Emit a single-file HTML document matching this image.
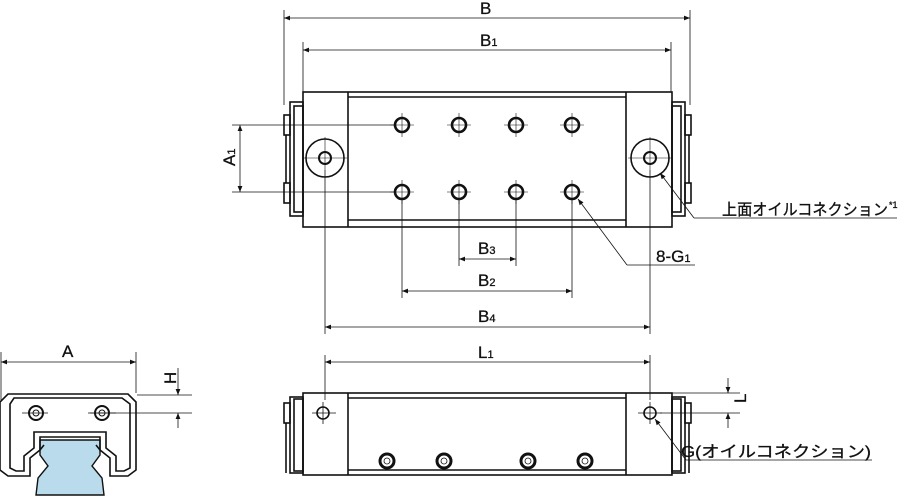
<!DOCTYPE html>
<html><head><meta charset="utf-8"><style>
html,body{margin:0;padding:0;background:#fff;width:905px;height:497px;overflow:hidden}
svg{display:block}
text{font-family:"Liberation Sans","Noto Sans CJK JP",sans-serif;fill:#111;stroke:#111;stroke-width:0.3}
</style></head><body>
<svg width="905" height="497" viewBox="0 0 905 497" xmlns="http://www.w3.org/2000/svg">
<defs>
<marker id="a" viewBox="0 0 10 10" refX="10" refY="5" markerWidth="8" markerHeight="6" orient="auto-start-reverse" markerUnits="userSpaceOnUse"><path d="M0,1 L10,5 L0,9 z" fill="#111"/></marker>
</defs>
<g stroke="#111" fill="none" stroke-width="0.8">
<line x1="284" y1="10" x2="284" y2="105"/><line x1="690" y1="10" x2="690" y2="105"/>
<line x1="284" y1="18" x2="690" y2="18" marker-start="url(#a)" marker-end="url(#a)"/>
<line x1="303" y1="42" x2="303" y2="92"/><line x1="671" y1="42" x2="671" y2="92"/>
<line x1="303" y1="50" x2="671" y2="50" marker-start="url(#a)" marker-end="url(#a)"/>
<line x1="232" y1="125" x2="395" y2="125"/><line x1="232" y1="192" x2="395" y2="192"/>
<line x1="240" y1="125" x2="240" y2="192" marker-start="url(#a)" marker-end="url(#a)"/>
<line x1="459" y1="200" x2="459" y2="266"/><line x1="516" y1="200" x2="516" y2="266"/>
<line x1="459" y1="259" x2="516" y2="259" marker-start="url(#a)" marker-end="url(#a)"/>
<line x1="402" y1="200" x2="402" y2="298"/><line x1="572" y1="200" x2="572" y2="298"/>
<line x1="402" y1="291" x2="572" y2="291" marker-start="url(#a)" marker-end="url(#a)"/>
<line x1="325" y1="170" x2="325" y2="334"/><line x1="650" y1="170" x2="650" y2="334"/>
<line x1="325" y1="327" x2="650" y2="327" marker-start="url(#a)" marker-end="url(#a)"/>
<line x1="694" y1="218" x2="660" y2="173" marker-end="url(#a)"/><line x1="694" y1="218" x2="897" y2="218"/>
<line x1="627" y1="265" x2="578" y2="199" marker-end="url(#a)"/><line x1="627" y1="265" x2="695" y2="265"/>
<g stroke-width="0.6">
<line x1="390" y1="125" x2="414" y2="125"/><line x1="447" y1="125" x2="471" y2="125"/><line x1="504" y1="125" x2="528" y2="125"/><line x1="560" y1="125" x2="584" y2="125"/>
<line x1="390" y1="192" x2="414" y2="192"/><line x1="447" y1="192" x2="471" y2="192"/><line x1="504" y1="192" x2="528" y2="192"/><line x1="560" y1="192" x2="584" y2="192"/>
<line x1="402" y1="113" x2="402" y2="137"/><line x1="459" y1="113" x2="459" y2="137"/><line x1="516" y1="113" x2="516" y2="137"/><line x1="572" y1="113" x2="572" y2="137"/>
<line x1="402" y1="180" x2="402" y2="204"/><line x1="459" y1="180" x2="459" y2="204"/><line x1="516" y1="180" x2="516" y2="204"/><line x1="572" y1="180" x2="572" y2="204"/>
<line x1="303" y1="158" x2="347" y2="158"/><line x1="325" y1="137" x2="325" y2="170"/>
<line x1="628" y1="158" x2="672" y2="158"/><line x1="650" y1="137" x2="650" y2="170"/>
</g>
</g>
<g stroke="#111" fill="none" stroke-width="1.6">
<rect x="303" y="92" width="369" height="135"/>
<line x1="348" y1="97" x2="626" y2="97"/><line x1="348" y1="220" x2="626" y2="220"/>
<line x1="348" y1="92" x2="348" y2="227"/><line x1="626" y1="92" x2="626" y2="227"/>
<rect x="290" y="102" width="13" height="114"/><rect x="294" y="106" width="9" height="106"/>
<rect x="284" y="115" width="6" height="20"/><rect x="284" y="183" width="6" height="20"/><line x1="286" y1="135" x2="286" y2="183"/>
<rect x="672" y="102" width="13" height="114"/><rect x="672" y="106" width="9" height="106"/>
<rect x="685" y="115" width="6" height="20"/><rect x="685" y="183" width="6" height="20"/><line x1="689" y1="135" x2="689" y2="183"/>
<circle cx="325" cy="158" r="19"/><circle cx="325" cy="158" r="6" stroke-width="2"/>
<circle cx="650" cy="158" r="19"/><circle cx="650" cy="158" r="6" stroke-width="2"/>
<g stroke-width="2.6">
<circle cx="402" cy="125" r="7"/><circle cx="459" cy="125" r="7"/><circle cx="516" cy="125" r="7"/><circle cx="572" cy="125" r="7"/>
<circle cx="402" cy="192" r="7"/><circle cx="459" cy="192" r="7"/><circle cx="516" cy="192" r="7"/><circle cx="572" cy="192" r="7"/>
</g>
</g>
<g stroke="#111" fill="none" stroke-width="0.8">
<line x1="325" y1="355" x2="325" y2="400"/><line x1="650" y1="355" x2="650" y2="400"/>
<line x1="325" y1="362" x2="650" y2="362" marker-start="url(#a)" marker-end="url(#a)"/>
<line x1="672" y1="393" x2="740" y2="393"/><line x1="660" y1="413" x2="740" y2="413"/>
<line x1="728" y1="378" x2="728" y2="393" marker-end="url(#a)"/><line x1="728" y1="428" x2="728" y2="413" marker-end="url(#a)"/>
<line x1="686" y1="460" x2="655" y2="419" marker-end="url(#a)"/><line x1="686" y1="460" x2="872" y2="460"/>
<line x1="312" y1="413" x2="336" y2="413"/><line x1="323" y1="402" x2="323" y2="424"/>
<line x1="638" y1="413" x2="662" y2="413"/><line x1="650" y1="402" x2="650" y2="424"/>
</g>
<g stroke="#111" fill="none" stroke-width="1.6">
<rect x="303" y="393" width="369" height="82"/>
<line x1="348" y1="398" x2="626" y2="398"/><line x1="348" y1="470" x2="626" y2="470"/>
<line x1="348" y1="393" x2="348" y2="475"/><line x1="626" y1="393" x2="626" y2="475"/>
<rect x="290" y="397" width="13" height="76"/><rect x="294" y="399" width="9" height="72"/>
<rect x="284" y="403" width="6" height="20"/><line x1="286" y1="423" x2="286" y2="473"/>
<rect x="672" y="397" width="13" height="76"/><rect x="672" y="399" width="9" height="72"/>
<rect x="685" y="403" width="6" height="20"/><line x1="689" y1="423" x2="689" y2="473"/>
<circle cx="323" cy="413" r="6"/><circle cx="650" cy="413" r="6"/>
<g stroke-width="3"><circle cx="387" cy="461" r="7"/><circle cx="444" cy="461" r="7"/><circle cx="528" cy="461" r="7"/><circle cx="585" cy="461" r="7"/></g>
<g stroke-width="0.8"><circle cx="387" cy="461" r="3"/><circle cx="444" cy="461" r="3"/><circle cx="528" cy="461" r="3"/><circle cx="585" cy="461" r="3"/></g>
</g>
<g stroke="#111" fill="none" stroke-width="0.8">
<line x1="1" y1="352" x2="1" y2="400"/><line x1="136" y1="352" x2="136" y2="393"/>
<line x1="1" y1="362" x2="136" y2="362" marker-start="url(#a)" marker-end="url(#a)"/>
<line x1="137" y1="395" x2="192" y2="395"/><line x1="90" y1="413" x2="192" y2="413"/>
<line x1="178" y1="368" x2="178" y2="395" marker-end="url(#a)"/><line x1="178" y1="428" x2="178" y2="413" marker-end="url(#a)"/>
<line x1="22" y1="413" x2="48" y2="413"/><line x1="88" y1="413" x2="116" y2="413"/>
</g>
<path d="M40,440 L40,455 L48,466 L38,478 L36,495 L104,495 L102,478 L92,466 L100,455 L100,440 Z" fill="#b9dbec" stroke="#111" stroke-width="1.4"/>
<g stroke="#111" fill="none" stroke-width="1.6">
<path d="M8,394 L128,394 L136,402 L136,470 L128,476 L110,476 L110,458 L100,450 L100,437 L40,437 L40,450 L30,458 L30,476 L8,476 L0,470 L0,402 Z"/>
<path d="M14,398 L122,398 L130,404 L130,468 L124,471 L116,471 L116,456 L106,448 L106,432 L34,432 L34,448 L24,456 L24,471 L16,471 L10,468 L10,404 Z"/>
<path d="M44,445 L40,450 M96,445 L100,450"/>
<circle cx="36" cy="413" r="7" stroke-width="2"/><circle cx="36" cy="413" r="3" stroke-width="1"/>
<circle cx="102" cy="413" r="7" stroke-width="2"/><circle cx="102" cy="413" r="3" stroke-width="1"/>
</g>
<text x="480" y="14" font-size="17">B</text>
<text x="480" y="46" font-size="17">B<tspan font-size="11">1</tspan></text>
<text x="235" y="166" font-size="17" transform="rotate(-90 235 166)">A<tspan font-size="11">1</tspan></text>
<text x="478" y="254" font-size="17">B<tspan font-size="11">3</tspan></text>
<text x="478" y="286" font-size="17">B<tspan font-size="11">2</tspan></text>
<text x="478" y="322" font-size="17">B<tspan font-size="11">4</tspan></text>
<text x="722" y="215" font-size="16" textLength="166" lengthAdjust="spacingAndGlyphs">上面オイルコネクション</text>
<text x="889" y="208" font-size="9">*1</text>
<text x="656" y="262" font-size="17">8-G<tspan font-size="11">1</tspan></text>
<text x="478" y="358" font-size="17">L<tspan font-size="11">1</tspan></text>
<text x="746" y="403" font-size="17" transform="rotate(-90 746 403)">L</text>
<text x="681" y="457" font-size="16" textLength="190" lengthAdjust="spacingAndGlyphs">G(オイルコネクション)</text>
<text x="62" y="357" font-size="17">A</text>
<text x="176" y="384" font-size="17" transform="rotate(-90 176 384)">H</text>
</svg>
</body></html>
